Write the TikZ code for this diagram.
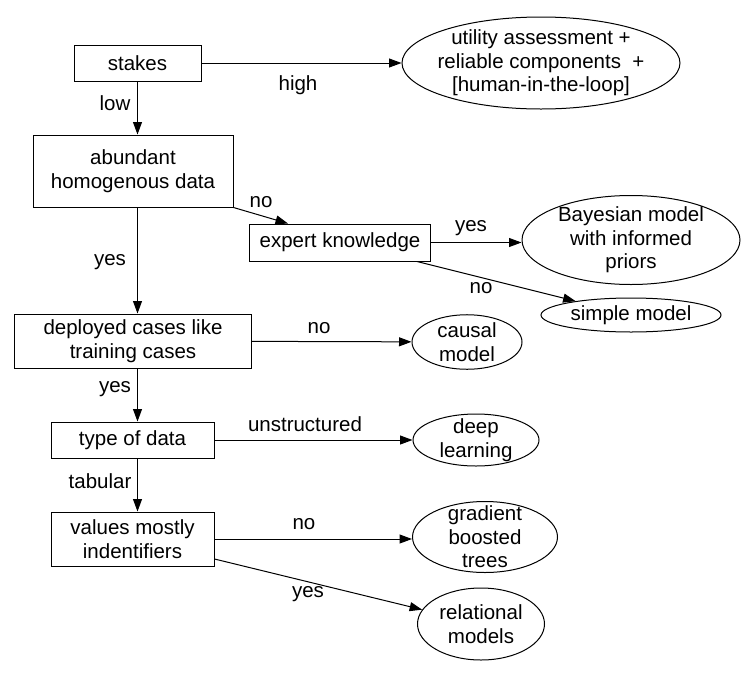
\documentclass[tikz,border=0pt]{standalone}
\usepackage{fontspec}
\setmainfont{Liberation Sans}
\usetikzlibrary{shapes.geometric,arrows.meta}

\begin{document}
\begin{tikzpicture}[x=1pt,y=-1pt,line width=1pt,
	font=\fontsize{20.5}{23.5}\selectfont,
	box/.style={draw, align=center, inner sep=0pt},
	oval/.style={draw, ellipse, align=center, inner sep=0pt},
	arr/.style={-{Triangle[length=12.5pt,width=9pt]}}]
	\useasboundingbox (0,0) rectangle (747,675);
	\draw (137.5,63) node[box, minimum width=127pt, minimum height=36pt](stakes) {stakes};
	\draw (541,63) node[oval, minimum width=278pt, minimum height=92pt, inner xsep=-6pt, inner ysep=-1pt](utility) {utility assessment +\\ reliable components\ \ +\\ {[human-in-the-loop]}};
	\draw (133,171) node[box, minimum width=200pt, minimum height=72pt](abundant) {abundant\\ homogenous data};
	\draw (340,242.5) node[box, minimum width=181pt, minimum height=37pt](expert) {expert knowledge};
	\draw (631,240) node[oval, minimum width=218pt, minimum height=89pt, inner ysep=-2pt](bayes) {Bayesian model\\ with informed\\ priors};
	\draw (631,315) node[oval, minimum width=180pt, minimum height=34pt](simple) {simple model};
	\draw (133,341) node[box, minimum width=237pt, minimum height=54pt](deployed) {deployed cases like\\ training cases};
	\draw (467,342) node[oval, minimum width=110pt, minimum height=54pt](causal) {causal\\ model};
	\draw (132.5,440) node[box, minimum width=163pt, minimum height=36pt](typ) {type of data};
	\draw (476,440) node[oval, minimum width=126pt, minimum height=52pt, inner ysep=-4pt](deep) {deep\\ learning};
	\draw (132.5,539) node[box, minimum width=163pt, minimum height=54pt](values) {values mostly\\ indentifiers};
	\draw (485,537) node[oval, minimum width=145pt, minimum height=71pt, inner ysep=-8.5pt](gradient) {gradient\\ boosted\\ trees};
	\draw (481,624) node[oval, minimum width=127pt, minimum height=72pt](relational) {relational\\ models};
	% labels
	\draw (298,85) node(high) {high};
	\draw (115,103) node(low) {low};
	\draw (261,202) node(noexpert) {no};
	\draw (471,228) node(yesbayes) {yes};
	\draw (481,288) node(nosimple) {no};
	\draw (110,262) node(yesdeployed) {yes};
	\draw (319,328) node(nocausal) {no};
	\draw (115,389) node(yestype) {yes};
	\draw (305,424) node(unstructured) {unstructured};
	\draw (100,481) node(tabular) {tabular};
	\draw (304,524) node(nogradient) {no};
	\draw (308,594) node(yesrelational) {yes};
	% arrows
	\draw[arr] (stakes) -- (utility);
	\draw[arr] (stakes.south) -- (stakes.south |- abundant.north);
	\draw[arr] (abundant.south east) -- ([xshift=39pt]expert.north west);
	\draw[arr] (expert.east) -- (expert.east -| bayes.west);
	\draw[arr] ([xshift=-14pt]expert.south east) -- (simple);
	\draw[arr] (stakes.south |- abundant.south) -- (stakes.south |- deployed.north);
	\draw[arr] (deployed) -- (causal);
	\draw[arr] (stakes.south |- deployed.south) -- (stakes.south |- typ.north);
	\draw[arr] (typ) -- (deep);
	\draw[arr] (stakes.south |- typ.south) -- (stakes.south |- values.north);
	\draw[arr] (values.east) -- (values.east -| gradient.west);
	\draw[arr] ([yshift=-20pt]values.east) -- (relational);
\end{tikzpicture}
\end{document}
